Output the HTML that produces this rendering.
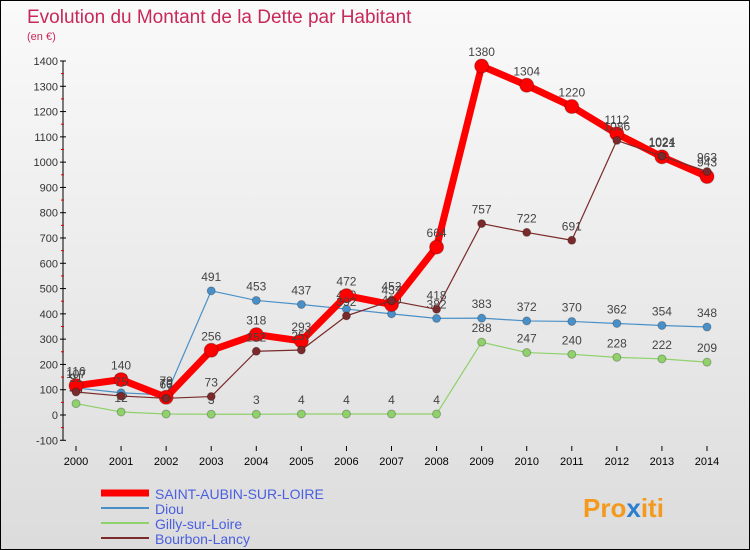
<!DOCTYPE html>
<html><head><meta charset="utf-8"><style>
body{margin:0;background:#fff}
#c{position:relative;width:748px;height:548px;border:1px solid #000;background:linear-gradient(#fafafa,#dcdcdc);font-family:"Liberation Sans",sans-serif;overflow:hidden}
</style></head><body>
<div id="c">
<svg id="s" width="748" height="548" xmlns="http://www.w3.org/2000/svg" style="position:absolute;left:0;top:0">
<text x="26" y="22" font-size="19" fill="#c8285a">Evolution du Montant de la Dette par Habitant</text>
<text x="26" y="39" font-size="11" fill="#c8285a">(en €)</text>
<g id="axes"></g><g id="series"></g>
<g>
<line x1="100" y1="492" x2="148" y2="492" stroke="#f00" stroke-width="7"/>
<text x="154" y="498" font-size="14" fill="#4a5fe0">SAINT-AUBIN-SUR-LOIRE</text>
<line x1="100" y1="507" x2="148" y2="507" stroke="#4a90c8" stroke-width="2"/>
<text x="154" y="513" font-size="14" fill="#4a5fe0">Diou</text>
<line x1="100" y1="522" x2="148" y2="522" stroke="#8fd16a" stroke-width="2"/>
<text x="154" y="528" font-size="14" fill="#4a5fe0">Gilly-sur-Loire</text>
<line x1="100" y1="537" x2="148" y2="537" stroke="#7a2a2a" stroke-width="2"/>
<text x="154" y="543" font-size="14" fill="#4a5fe0">Bourbon-Lancy</text>
</g>
<text x="582" y="516" font-size="26" font-weight="bold" fill="#f39a1e">Pro<tspan fill="#2a7fd0">x</tspan>iti</text>
</svg>
</div>
<script>
const years=[2000,2001,2002,2003,2004,2005,2006,2007,2008,2009,2010,2011,2012,2013,2014];
const yTicks=[-100,0,100,200,300,400,500,600,700,800,900,1000,1100,1200,1300,1400];
const saintAubin=[116,140,70,256,318,293,472,437,664,1380,1304,1220,1112,1021,943];
const diou=[107,88,79,491,453,437,419,400,382,383,372,370,362,354,348];
const gilly=[45,12,4,3,3,4,4,4,4,288,247,240,228,222,209];
const bourbon=[91,75,66,73,252,257,392,452,418,757,722,691,1086,1024,963];
const NS="http://www.w3.org/2000/svg";
const X=i=>75+i*(706-75)/(years.length-1);
const Y=v=>414-v*(414-60)/1400;
function el(t,a,p){const e=document.createElementNS(NS,t);for(const k in a)e.setAttribute(k,a[k]);p.appendChild(e);return e;}
const ax=document.getElementById('axes');
const yl=el('line',{x1:62,y1:Y(1400),x2:62,y2:Y(-100),stroke:'#000'},ax);


yTicks.forEach(v=>{
 el('line',{x1:59,y1:Y(v),x2:65,y2:Y(v),stroke:'#000'},ax);
 if(v<1400){el('line',{x1:60,y1:Y(v+50),x2:63,y2:Y(v+50),stroke:'#d00'},ax);}
 const t=el('text',{x:57,y:Y(v)+4,'font-size':11,'text-anchor':'end',fill:'#333'},ax);t.textContent=v;
 
 
});
years.forEach((y,i)=>{
 el('line',{x1:X(i),y1:445,x2:X(i),y2:450,stroke:'#000'},ax);
 const t=el('text',{x:X(i),y:464,'font-size':11,'text-anchor':'middle',fill:'#000'},ax);t.textContent=y;
 
 
});
const sg=document.getElementById('series');
function series(data,color,w,r,name){
 const g=el('g',{},sg);
 
 
 const pl=el('polyline',{points:data.map((v,i)=>X(i)+','+Y(v)).join(' '),fill:'none',stroke:color,'stroke-width':w,'stroke-linejoin':'round'},g);
 
 
 data.forEach((v,i)=>{
  const c=el('circle',{cx:X(i),cy:Y(v),r:r,fill:color,stroke:'rgba(0,0,0,0.25)'},g);
  
  
  const t=el('text',{x:X(i),y:Y(v)-10,'font-size':12,'text-anchor':'middle',fill:'#444'},g);t.textContent=v;
  
  
 });
}
series(gilly,'#8fd16a',1.2,4,'gilly');
series(diou,'#4a90c8',1.2,4,'diou');
series(saintAubin,'#f00',7,7,'saint-aubin');
series(bourbon,'#7a2a2a',1.2,4,'bourbon');
</script>
</body></html>
